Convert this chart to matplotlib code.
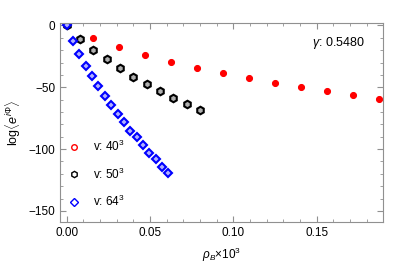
import matplotlib.pyplot as plt
import numpy as np
from matplotlib.lines import Line2D
from matplotlib.ticker import MultipleLocator

plt.rcParams['font.family'] = ['Liberation Sans', 'DejaVu Sans']
plt.rcParams['mathtext.fontset'] = 'custom'
plt.rcParams['mathtext.rm'] = 'Liberation Sans'
plt.rcParams['mathtext.it'] = 'Liberation Sans:italic'
plt.rcParams['font.size'] = 8.5

# x = k / L^3 * 10^3, y = log<e^{i phi}>
x40 = np.arange(13) / 64.0
y40 = [0, -10.0, -17.6, -24.0, -29.3, -34.3, -38.8, -42.9, -46.7, -49.9, -53.4, -56.4, -59.6]
x50 = np.arange(11) / 125.0
y50 = [0, -11.3, -19.7, -27.5, -34.5, -41.3, -47.5, -53.2, -58.6, -63.9, -68.3]
x64 = np.arange(17) / 262.144
y64 = [0, -12.7, -23.0, -32.4, -40.8, -48.9, -57.0, -64.2, -71.5, -78.4, -85.2,
       -90.6, -97.1, -102.8, -108.4, -114.1, -119.5]
labels = ["v: 40$^3$", "v: 50$^3$", "v: 64$^3$"]
gamma_txt = "$\\mathit{\\gamma}$: 0.5480"

fig = plt.figure(figsize=(4.07, 2.67), dpi=100)
ax = fig.add_axes([60/407, 1-222/267, 323/407, 199/267])

ax.plot(x40, y40, 'o', color='red', ms=4.3, mec='red', mew=0.8, ls='none')
ax.plot(x50, y50, 'h', color='black', ms=5.4, mfc='#b0b0b0', mec='black', mew=1.5, ls='none')
ax.plot(x64, y64, 'D', color='blue', ms=3.9, mfc='#b0b0ff', mec='blue', mew=1.5, ls='none')

ax.set_xlim(-0.004, 0.1898)
ax.set_ylim(-159, 2)
ax.xaxis.set_major_locator(MultipleLocator(0.05))
ax.xaxis.set_minor_locator(MultipleLocator(0.01))
ax.yaxis.set_major_locator(MultipleLocator(50))
ax.yaxis.set_minor_locator(MultipleLocator(10))
ax.xaxis.set_major_formatter(lambda v, p: "%.2f" % v)
ax.yaxis.set_major_formatter(lambda v, p: ("%d" % v).replace('-', '\u2212'))
ax.tick_params(which='both', direction='in', top=True, right=True, color='#909090')
ax.tick_params(which='major', length=4, width=0.8)
ax.tick_params(which='minor', length=2.2, width=0.6)
for s in ax.spines.values():
    s.set_color('#909090')
    s.set_linewidth(0.8)

ax.set_xlabel("$\\mathit{\\rho_B}$\u00d710$^3$", labelpad=5)
ax.set_ylabel("log$\\langle e^{i\\Phi}\\rangle$", labelpad=4, fontsize=9)
ax.text(0.944, 0.9, gamma_txt, transform=ax.transAxes, ha='right', va='center', fontsize=9)

handles = [
    Line2D([], [], marker='o', ls='none', mfc='none', mec='red', ms=4, mew=1),
    Line2D([], [], marker='h', ls='none', mfc='none', mec='black', ms=4.5, mew=1),
    Line2D([], [], marker='D', ls='none', mfc='none', mec='blue', ms=3.8, mew=1),
]
ax.legend(handles, labels, loc='upper left', bbox_to_anchor=(0.0, 0.46), frameon=False,
          labelspacing=1.05, handlelength=1.0, handletextpad=1.1, borderaxespad=0.3)

fig.savefig("out.png", dpi=100)
